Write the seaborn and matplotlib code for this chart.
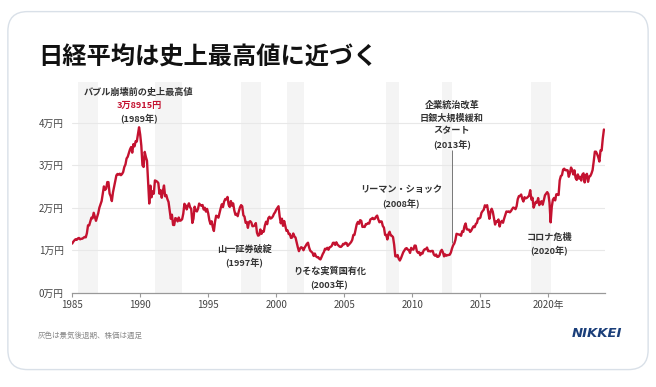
import numpy as np
import pandas as pd
import seaborn as sns
import matplotlib.pyplot as plt
from matplotlib.patches import FancyBboxPatch

# --- monthly Nikkei average (yen) ---
nikkei_1980s = [
    11550, 11990, 12320, 12580, 12430, 12760, 12880, 12560, 12690, 12700, 12930, 13110,
    13020, 14000, 15860, 15830, 16720, 17650, 17500, 18800, 17850, 16910, 17850, 18700,
    20000, 20800, 21570, 23270, 25000, 24180, 24490, 26030, 26010, 23330, 22690, 21560,
    23620, 25000, 26260, 27600, 27940, 27770, 28000, 27640, 27920, 28400, 29580, 30160,
    31580, 31980, 32840, 33710, 34270, 32950, 34950, 34430, 35640, 35550, 37270, 38920,
]
nikkei_1990s = [
    37190, 34590, 29980, 29580, 33130, 31940, 31040, 25980, 20980, 25190, 22450, 23850,
    23290, 26410, 26290, 26110, 25790, 23290, 24120, 22340, 23920, 25220, 22690, 22980,
    22020, 21340, 19350, 17390, 18350, 15950, 15910, 17550, 17400, 16770, 17690, 16920,
    17020, 17300, 18590, 20920, 20550, 19590, 20380, 21030, 20110, 19700, 16410, 17420,
    20230, 19430, 19110, 19730, 20970, 20640, 20460, 20630, 19560, 19990, 19080, 19720,
    18650, 17050, 16140, 16810, 15440, 14520, 16680, 18120, 17910, 17650, 18740, 19870,
    20810, 20130, 21410, 22040, 21960, 22530, 20690, 20170, 21560, 20470, 21020, 19360,
    18330, 18560, 18000, 19150, 20070, 20600, 20330, 18230, 17890, 16460, 16630, 15260,
    16630, 16830, 16530, 15640, 15670, 15830, 16380, 14110, 13410, 13560, 14880, 13840,
    14500, 14370, 15840, 16700, 16110, 17530, 17860, 17440, 17600, 17940, 18560, 18930,
]
nikkei_2000s = [
    19540, 19960, 20340, 17970, 16330, 17410, 15730, 16860, 15750, 14540, 14650, 13790,
    13840, 12880, 12990, 13930, 13260, 12970, 11860, 10710, 9770, 10370, 10700, 10540,
    9990, 10590, 11020, 11490, 11760, 10620, 9880, 9620, 9380, 8640, 9220, 8580,
    8340, 8360, 7970, 7830, 8420, 9080, 9560, 10340, 10220, 10560, 10100, 10680,
    10780, 11040, 11720, 11760, 11240, 11860, 11330, 11080, 10820, 10770, 11000, 11490,
    11390, 11740, 11670, 11010, 11280, 11580, 11900, 12410, 13570, 13610, 14870, 16110,
    16650, 16210, 17060, 16910, 15470, 15510, 15460, 16140, 16130, 16400, 16270, 17230,
    17380, 17600, 17290, 17400, 17880, 18140, 17250, 16570, 16790, 16740, 15680, 15310,
    13590, 13600, 12530, 13850, 14340, 13480, 13380, 13070, 11260, 8580, 8510, 8860,
    7990, 7570, 8110, 8830, 9520, 9960, 10360, 10490, 10130, 10030, 9350, 10550,
]
nikkei_2010s = [
    10200, 10130, 11090, 11060, 9770, 9380, 9540, 8820, 9370, 9200, 9940, 10230,
    10240, 10620, 9760, 9850, 9690, 9820, 9830, 8960, 8700, 8990, 8430, 8460,
    8800, 9720, 10080, 9520, 8540, 9010, 8700, 8840, 8870, 8930, 9450, 10400,
    11140, 11560, 12400, 13860, 13770, 13680, 13670, 13390, 14460, 14330, 15660, 16290,
    14910, 14840, 14830, 14300, 14630, 15160, 15620, 15420, 16170, 16410, 17460, 17450,
    17670, 18800, 19210, 19520, 20560, 20240, 20590, 18890, 17390, 19080, 19750, 19030,
    17520, 16030, 16760, 16670, 17230, 15580, 16570, 16890, 16450, 17430, 18310, 19110,
    19040, 19120, 18910, 19200, 19650, 20030, 19930, 19650, 20360, 22010, 22720, 22760,
    23100, 22070, 21450, 22470, 22200, 22300, 22550, 22870, 24120, 21920, 22350, 20010,
    20770, 21390, 21210, 22260, 20600, 21280, 21520, 20700, 21760, 22930, 23290, 23660,
]
nikkei_2020s = [
    23210, 21140, 16550, 20190, 21880, 22290, 21710, 23140, 23190, 22980, 26430, 27440,
    27660, 28970, 29180, 28810, 28860, 28790, 27280, 28090, 29450, 28890, 27820, 28790,
    27000, 26530, 27820, 26850, 27280, 26390, 27800, 28090, 25940, 27590, 27970, 26090,
    27330, 27450, 28040, 28860, 30890, 33190, 33170, 32620, 31860, 30860, 33490, 33460,
    36290, 38400,
]

# recession periods (grey bands)
recession_start = [1985.45, 1991.1, 1997.4, 2000.8, 2008.1, 2012.15, 2018.75]
recession_end = [1986.9, 1993.05, 1998.9, 2002.05, 2009.05, 2012.9, 2020.2]

x_ticks = [1985, 1990, 1995, 2000, 2005, 2010, 2015, 2020]
x_tick_labels = ["1985", "1990", "1995", "2000", "2005", "2010", "2015", "2020年"]
y_ticks = [0, 1, 2, 3, 4]
y_tick_labels = ["0万円", "1万円", "2万円", "3万円", "4万円"]

# event annotations: x (year), top y (万円), lines
events = [
    (1989.9, 4.72, ["バブル崩壊前の史上最高値", "3万8915円", "(1989年)"]),
    (1997.67, 1.03, ["山一証券破綻", "(1997年)"]),
    (2003.9, 0.51, ["りそな実質国有化", "(2003年)"]),
    (2009.2, 2.42, ["リーマン・ショック", "(2008年)"]),
    (2012.9, 4.42, ["企業統治改革", "日銀大規模緩和", "スタート", "(2013年)"]),
    (2020.05, 1.31, ["コロナ危機", "(2020年)"]),
]
pointer_2013 = (2012.9, 3.36, 1.17)

values = np.array(nikkei_1980s + nikkei_1990s + nikkei_2000s + nikkei_2010s + nikkei_2020s) / 10000
df = pd.DataFrame({"year": 1985 + np.arange(len(values)) / 12, "price": values})

sns.set_theme(style="white")
plt.rcParams["font.family"] = ["Noto Sans CJK JP", "DejaVu Sans"]

RED = "#c41230"
TXT = "#333333"

fig = plt.figure(figsize=(6.56, 3.87), dpi=100)
fig.patch.set_facecolor("white")

# rounded card behind everything
card = FancyBboxPatch((0.012, 0.045), 0.976, 0.925, boxstyle="round,pad=0,rounding_size=0.03",
                      transform=fig.transFigure, facecolor="white", edgecolor="#d9e0e8",
                      linewidth=1.0, mutation_aspect=656 / 387, zorder=-10)
fig.patches.append(card)

ax = fig.add_axes([0.110, 0.2437, 0.812, 0.5436])
ax.set_facecolor("none")

for s, e in zip(recession_start, recession_end):
    ax.axvspan(s, e, color="#f4f4f4", lw=0, zorder=0)

for t in y_ticks[1:]:
    ax.axhline(t, xmin=0, xmax=1, color="#e8e8e8", lw=0.8, zorder=1)

sns.lineplot(data=df, x="year", y="price", ax=ax, color=RED, lw=1.7, zorder=3)

ax.set_xlim(1985, 2024.15)
ax.set_ylim(0, 4.95)
ax.set_xticks(x_ticks)
ax.set_xticklabels(x_tick_labels, fontsize=7, color="#444444")
ax.set_yticks(y_ticks)
ax.set_yticklabels(y_tick_labels, fontsize=7, color="#444444")
ax.tick_params(axis="x", length=3, width=0.8, color="#999999", pad=2, bottom=True)
ax.tick_params(axis="y", length=0, pad=6)
ax.set_xlabel("")
ax.set_ylabel("")
for side in ["top", "right", "left"]:
    ax.spines[side].set_visible(False)
ax.spines["bottom"].set_color("#999999")
ax.spines["bottom"].set_linewidth(0.9)

# annotations
for x, y, lines in events:
    for i, line in enumerate(lines):
        color = RED if line.startswith("3万") else TXT
        ax.annotate(line, xy=(x, y), xytext=(0, -9.4 * i), textcoords="offset points",
                    ha="center", va="center", fontsize=6.6, fontweight="bold",
                    color=color, zorder=5)

px, ptop, pbot = pointer_2013
ax.vlines(px, pbot, ptop, color="#777777", lw=0.7, zorder=4)

fig.text(0.058, 0.852, "日経平均は史上最高値に近づく", fontsize=17.5, fontweight="bold",
         color="#111111", va="center", ha="left")
fig.text(0.057, 0.133, "灰色は景気後退期、株価は週足", fontsize=5.4, color="#888888",
         va="center", ha="left")
fig.text(0.948, 0.137, "NIKKEI", fontsize=9.5, fontweight="bold", fontstyle="italic",
         color="#1b3f7a", va="center", ha="right", family=["DejaVu Sans"])

fig.savefig("out.png", dpi=100, facecolor="white")
